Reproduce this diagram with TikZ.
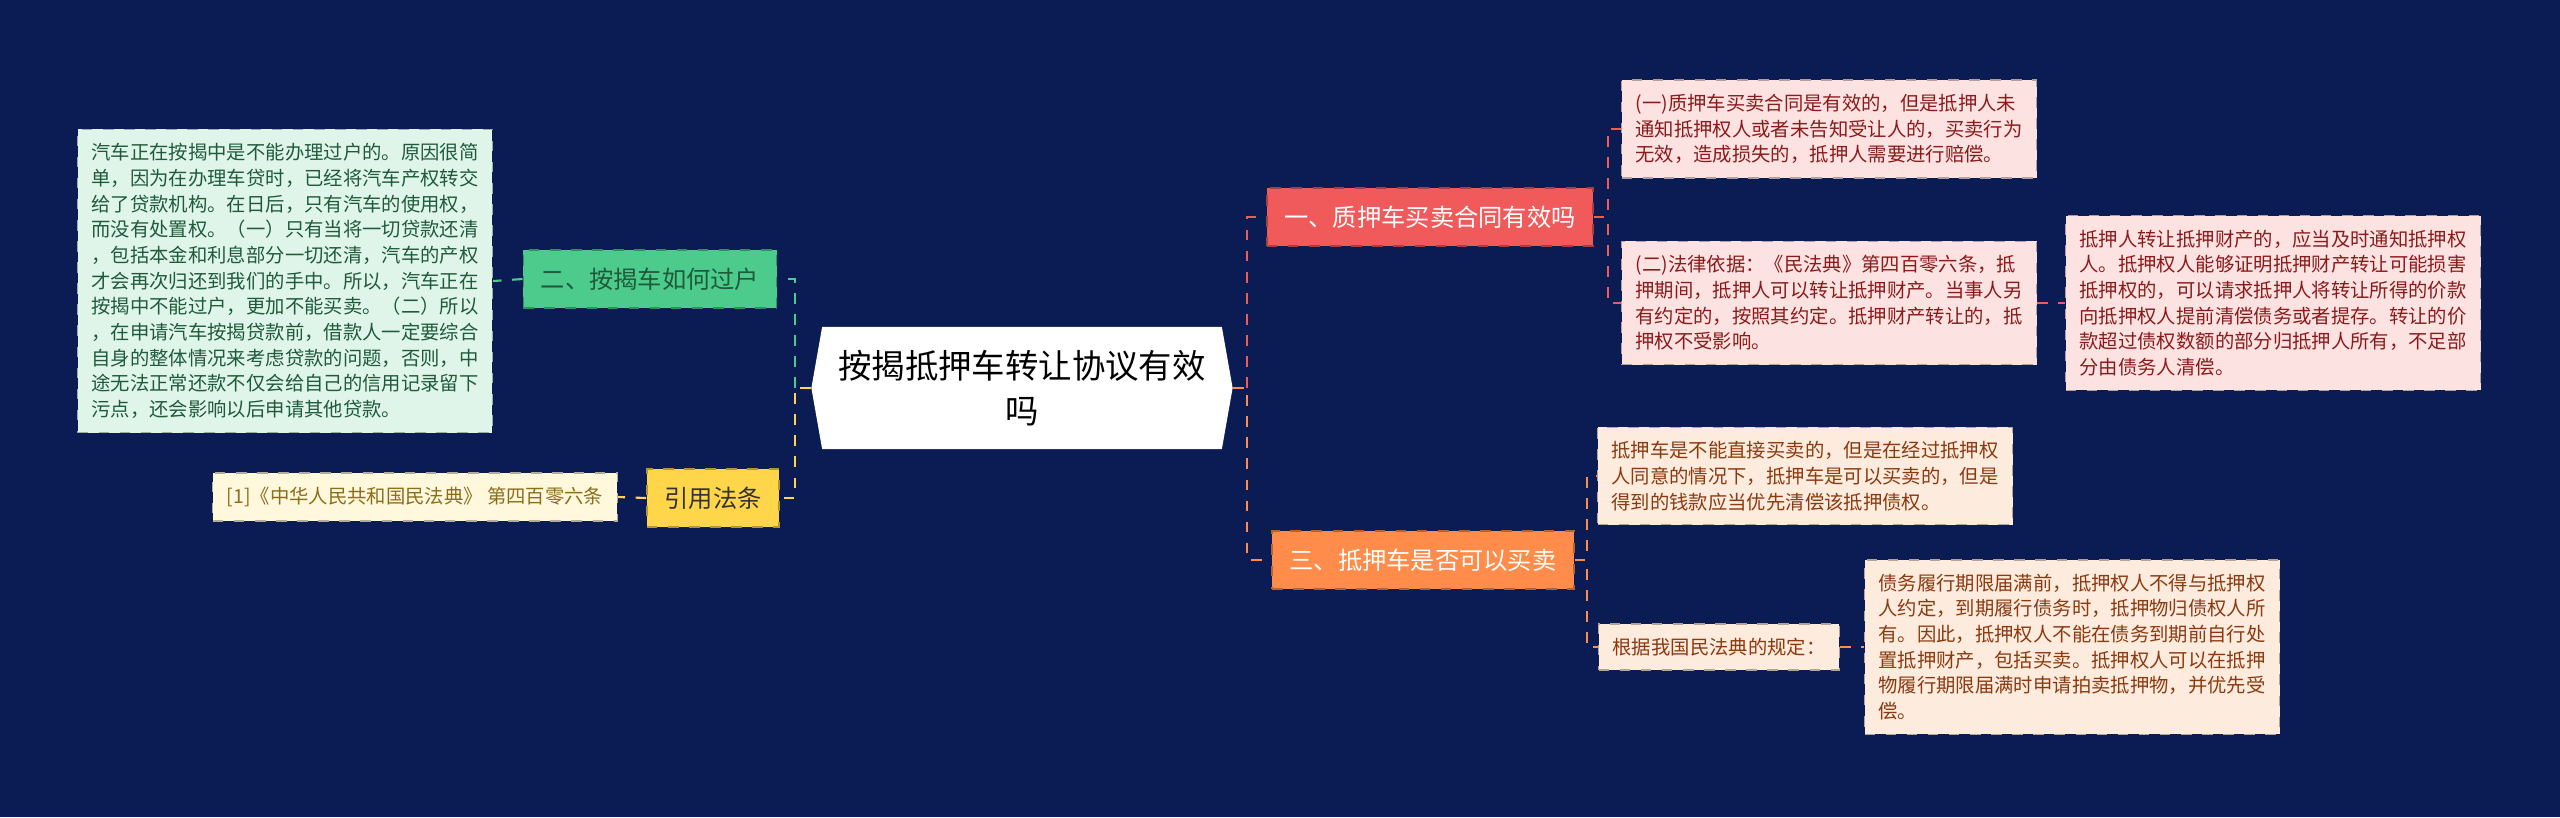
\documentclass[tikz,border=0pt]{standalone}
\usepackage{fontspec}
\setmainfont{Noto Sans CJK SC}
\usetikzlibrary{shapes.symbols}
\definecolor{bgblue}{HTML}{0B1C54}
\definecolor{grn}{HTML}{4CCB8C}
\definecolor{grnlt}{HTML}{DFF5EA}
\definecolor{grntx}{HTML}{1F5A3A}
\definecolor{ylw}{HTML}{FFD54A}
\definecolor{ylwlt}{HTML}{FFF8DC}
\definecolor{ylwtx}{HTML}{8B6D1A}
\definecolor{rd}{HTML}{F05A5A}
\definecolor{rdlt}{HTML}{FDE2E2}
\definecolor{rdtx}{HTML}{8B1A1A}
\definecolor{org}{HTML}{FF8C4A}
\definecolor{orglt}{HTML}{FDEBDD}
\definecolor{orgtx}{HTML}{8B3A10}
\tikzset{
  branch/.style={draw=#1!70!black, dashed, fill=#1, inner sep=5pt, font=\fontsize{6.9}{9}\selectfont},
  leaf/.style={draw=#1!70!black, dashed, fill=#1, align=left, inner sep=4pt, font=\fontsize{5.5}{7.3}\selectfont},
  link/.style={draw=#1, dashed, line width=0.6pt}
}
\begin{document}
\begin{tikzpicture}[x=0.01cm,y=-0.01cm]
  \fill[bgblue] (0,0) rectangle (2560,817);

  \node[signal, signal to=west and east, signal pointer angle=160, fill=white, minimum width=4.21cm, minimum height=1.22cm,
        inner xsep=2pt, align=center, font=\fontsize{9.5}{13}\selectfont] (root) at (1022,388) {按揭抵押车转让协议有效\\吗};

  \node[branch=grn, text=grntx] (b2) at (650,279) {二、按揭车如何过户};
  \node[leaf=grnlt, text=grntx] (t2) at (285,281) {汽车正在按揭中是不能办理过户的。原因很简\\单，因为在办理车贷时，已经将汽车产权转交\\给了贷款机构。在日后，只有汽车的使用权，\\而没有处置权。（一）只有当将一切贷款还清\\，包括本金和利息部分一切还清，汽车的产权\\才会再次归还到我们的手中。所以，汽车正在\\按揭中不能过户，更加不能买卖。（二）所以\\，在申请汽车按揭贷款前，借款人一定要综合\\自身的整体情况来考虑贷款的问题，否则，中\\途无法正常还款不仅会给自己的信用记录留下\\污点，还会影响以后申请其他贷款。};

  \node[branch=ylw, text=black!80] (bref) at (713,498) {引用法条};
  \node[leaf=ylwlt, text=ylwtx] (tref) at (415,497) {[1]《中华人民共和国民法典》 第四百零六条};

  \node[branch=rd, text=white] (b1) at (1430,217) {一、质押车买卖合同有效吗};
  \node[leaf=rdlt, text=rdtx] (t11) at (1829,129) {(一)质押车买卖合同是有效的，但是抵押人未\\通知抵押权人或者未告知受让人的，买卖行为\\无效，造成损失的，抵押人需要进行赔偿。};
  \node[leaf=rdlt, text=rdtx] (t12) at (1829,303) {(二)法律依据：《民法典》第四百零六条，抵\\押期间，抵押人可以转让抵押财产。当事人另\\有约定的，按照其约定。抵押财产转让的，抵\\押权不受影响。};
  \node[leaf=rdlt, text=rdtx] (t13) at (2273,303) {抵押人转让抵押财产的，应当及时通知抵押权\\人。抵押权人能够证明抵押财产转让可能损害\\抵押权的，可以请求抵押人将转让所得的价款\\向抵押权人提前清偿债务或者提存。转让的价\\款超过债权数额的部分归抵押人所有，不足部\\分由债务人清偿。};

  \node[branch=org, text=white] (b3) at (1423,560) {三、抵押车是否可以买卖};
  \node[leaf=orglt, text=orgtx] (t31) at (1805,476) {抵押车是不能直接买卖的，但是在经过抵押权\\人同意的情况下，抵押车是可以买卖的，但是\\得到的钱款应当优先清偿该抵押债权。};
  \node[leaf=orglt, text=orgtx] (t32) at (1719,647) {根据我国民法典的规定：};
  \node[leaf=orglt, text=orgtx] (t33) at (2072,647) {债务履行期限届满前，抵押权人不得与抵押权\\人约定，到期履行债务时，抵押物归债权人所\\有。因此，抵押权人不能在债务到期前自行处\\置抵押财产，包括买卖。抵押权人可以在抵押\\物履行期限届满时申请拍卖抵押物，并优先受\\偿。};

  \draw[link=grn] (root.west) ++(-16,0) |- (b2.east);
  \draw[link=ylw] (root.west) -- ++(-16,0) |- (bref.east);
  \draw[link=grn] (b2.west) -- (t2.east);
  \draw[link=ylw] (bref.west) -- (tref.east);

  \draw[link=rd] (root.east) ++(14,0) |- (b1.west);
  \draw[link=org] (root.east) -- ++(14,0) |- (b3.west);
  \draw[link=rd] (b1.east) -- ++(14,0) |- (t11.west);
  \draw[link=rd] (b1.east) -- ++(14,0) |- (t12.west);
  \draw[link=rd] (t12.east) -- (t13.west);
  \draw[link=org] (b3.east) -- ++(12,0) |- (t31.west);
  \draw[link=org] (b3.east) -- ++(12,0) |- (t32.west);
  \draw[link=org] (t32.east) -- (t33.west);
\end{tikzpicture}
\end{document}
